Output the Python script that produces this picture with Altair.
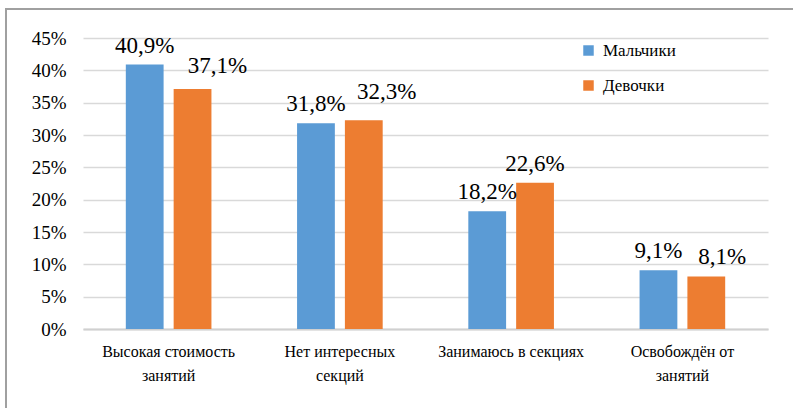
import altair as alt
import pandas as pd

# Reasons for not attending sports sections, by gender (share of respondents, %)
category_lines = [
    ["Высокая стоимость", "занятий"],
    ["Нет интересных", "секций"],
    ["Занимаюсь  в секциях"],
    ["Освобождён от", "занятий"],
]
series = ["Мальчики", "Девочки"]
boys = [40.9, 31.8, 18.2, 9.1]
girls = [37.1, 32.3, 22.6, 8.1]
colors = ["#5b9bd5", "#ed7d31"]
y_ticks = [0, 5, 10, 15, 20, 25, 30, 35, 40, 45]

categories = ["|".join(lines) for lines in category_lines]

rows = []
for i, (cat, b, g) in enumerate(zip(categories, boys, girls)):
    for name, v in ((series[0], b), (series[1], g)):
        rows.append({"cat": cat, "idx": i, "series": name, "value": v,
                     "label": f"{v:.1f}%".replace(".", ",")})
df = pd.DataFrame(rows)

FONT = "Liberation Serif"

x_enc = alt.X("cat:N", sort=categories, title=None,
              scale=alt.Scale(paddingInner=0.5, paddingOuter=0.25),
              axis=alt.Axis(labelExpr="split(datum.label, '|')", labelAngle=0,
                            labelFontSize=16, labelLineHeight=24, labelPadding=14,
                            labelFont=FONT, labelColor="#000000", ticks=False,
                            domainColor="#d0d0d0", domainWidth=2, labelBaseline="top"))
y_enc = alt.Y("value:Q", title=None,
              scale=alt.Scale(domain=[0, 45], nice=False),
              axis=alt.Axis(values=y_ticks, labelExpr="datum.value + '%'",
                            labelFontSize=19, labelFont=FONT, labelColor="#000000",
                            labelPadding=17, ticks=False, domain=False,
                            labelOverlap=False,
                            gridColor="#d9d9d9", gridWidth=1.3))
off_enc = alt.XOffset("series:N", sort=series,
                      scale=alt.Scale(paddingInner=0.21, paddingOuter=0))

bars = alt.Chart(df).mark_bar().encode(
    x=x_enc, y=y_enc, xOffset=off_enc,
    color=alt.Color("series:N", sort=series,
                    scale=alt.Scale(domain=series, range=colors),
                    legend=alt.Legend(title=None, orient="none", legendX=497, legendY=4,
                                      symbolType="square", symbolSize=110,
                                      symbolStrokeWidth=0, labelFont=FONT,
                                      labelFontSize=17, labelColor="#000000",
                                      rowPadding=17, labelOffset=6)),
)

base_text = alt.Chart(df).encode(
    x=x_enc, y=y_enc, xOffset=off_enc,
    text="label:N",
)
text_kw = dict(font=FONT, fontSize=23, baseline="alphabetic", color="#000000")

# Some girls' labels are nudged to the right of their bars
girl = f"datum.series == '{series[1]}'"
labels_plain = base_text.transform_filter(
    f"!({girl} && (datum.idx < 2 || datum.idx == 3))"
).mark_text(dy=-12, **text_kw)
labels_shift_a = base_text.transform_filter(
    f"{girl} && datum.idx == 0"
).mark_text(dx=25, dy=-16, **text_kw)
labels_shift_b = base_text.transform_filter(
    f"{girl} && datum.idx == 1"
).mark_text(dx=23, dy=-21, **text_kw)
labels_shift_d = base_text.transform_filter(
    f"{girl} && datum.idx == 3"
).mark_text(dx=16, dy=-13, **text_kw)

# Outer chart frame
frame = alt.Chart(df).mark_rect(fill="transparent", stroke="#a0a0a0", strokeWidth=1.5).encode(
    x=alt.value(-77), x2=alt.value(900), y=alt.value(-29), y2=alt.value(500)
)

chart = alt.layer(bars, labels_plain, labels_shift_a, labels_shift_b, labels_shift_d,
                  frame).properties(
    width=685, height=291,
    autosize=alt.AutoSizeParams(type="none"),
    padding={"left": 83, "top": 38, "right": 25, "bottom": 79},
).configure(
    background="#ffffff", font=FONT, view=alt.ViewConfig(stroke=None),
).configure_text(font=FONT).configure_axis(labelFont=FONT).configure_legend(labelFont=FONT)

chart.save("out.html", embed_options={"renderer": "svg", "actions": False})
